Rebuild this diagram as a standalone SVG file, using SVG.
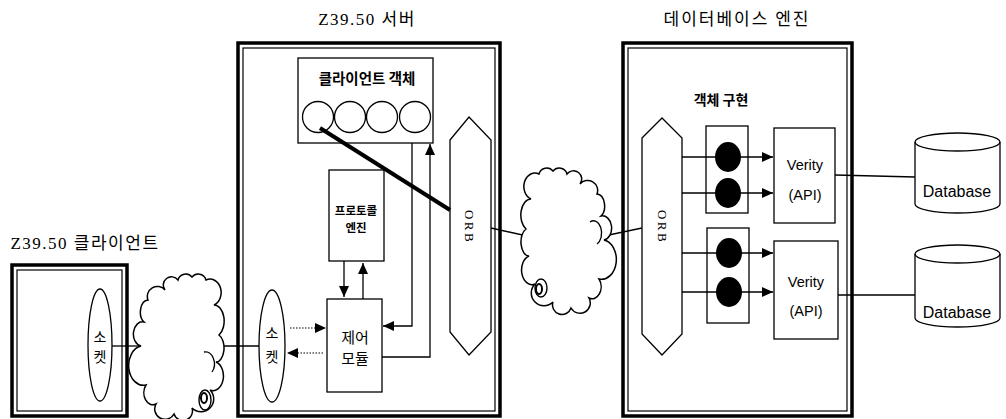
<svg xmlns="http://www.w3.org/2000/svg" width="1006" height="419" viewBox="0 0 1006 419">
<style>
.ln{fill:none;stroke:#000;stroke-width:1.3}
.box{fill:#fff;stroke:#000;stroke-width:1.3}
.fo{fill:none;stroke:#000;stroke-width:3.5}
.fi{fill:none;stroke:#000;stroke-width:1.2}
.dot{fill:none;stroke:#000;stroke-width:1.2;stroke-dasharray:1.5 1.5}
.kr{font-family:"Noto Sans CJK KR","Noto Sans",sans-serif;fill:#000;text-anchor:middle}
.ti{font-family:"Liberation Serif","Noto Sans CJK KR",serif;font-size:17px;letter-spacing:1.5px;fill:#000;text-anchor:middle}
.ar{font-family:"Liberation Sans",Arial,sans-serif;fill:#000;text-anchor:middle}
.orb{font-family:"Liberation Serif",serif;font-size:13px;letter-spacing:2.5px;fill:#000;text-anchor:middle}
</style>
<defs>
<marker id="ah" markerUnits="userSpaceOnUse" markerWidth="12" markerHeight="10" refX="11" refY="5" orient="auto"><path d="M0,0 L11,5 L0,10 Z" fill="#000"/></marker>
<path id="cloud" d="M141 346 A9 12 0 0 1 144 322 A8 12 0 0 1 148 300 A10 10 0 0 1 165 290 A8 8 0 0 1 178 280 A8 8 0 0 1 192 277 A8 8 0 0 1 206 280 A10 12 0 0 1 214 305 A10 16 0 0 1 219 335 A8 14 0 0 1 216 362 A10 14 0 0 1 210 390 A10 10 0 0 1 192 408 A9 9 0 0 1 174 414 A10 10 0 0 1 156 404 A9 12 0 0 1 146 385 A9 12 0 0 1 141 346 Z" fill="#fff" stroke="#000" stroke-width="1.5"/>
</defs>
<rect width="1006" height="419" fill="#fff"/>

<!-- titles -->
<text class="ti" x="367" y="25">Z39.50 서버</text>
<text class="ti" x="737" y="25" style="font-family:'Noto Sans CJK KR',sans-serif;letter-spacing:2px">데이터베이스 엔진</text>
<text class="ti" x="85" y="249">Z39.50 클라이언트</text>

<!-- client -->
<g id="client">
<rect class="fo" x="12" y="265" width="115" height="151"/>
<rect class="fi" x="17" y="270" width="105" height="141"/>
<ellipse class="box" cx="100" cy="345" rx="12" ry="56"/>
<text class="kr" x="100" y="342" font-size="14">소</text>
<text class="kr" x="100" y="362" font-size="14">켓</text>
</g>

<!-- server -->
<g id="server">
<rect class="fo" x="238" y="43" width="262" height="373"/>
<rect class="fi" x="243" y="48" width="252" height="363"/>
</g>
<g id="client-object">
<rect class="box" x="298" y="58" width="135" height="85"/>
<text class="kr" x="367" y="84" font-size="14.5" font-weight="bold">클라이언트 객체</text>
<circle class="box" cx="318" cy="117" r="15.5"/>
<circle class="box" cx="350" cy="117" r="15.5"/>
<circle class="box" cx="382" cy="117" r="15.5"/>
<circle class="box" cx="415" cy="117" r="15.5"/>
</g>
<g id="protocol-engine">
<rect class="box" x="329" y="170" width="55" height="91"/>
<text class="kr" x="356" y="215" font-size="11.5" font-weight="bold">프로토콜</text>
<text class="kr" x="356" y="232" font-size="11.5" font-weight="bold">엔진</text>
</g>
<g id="control-module">
<rect class="box" x="327" y="299" width="55" height="93"/>
<text class="kr" x="355" y="343" font-size="15">제어</text>
<text class="kr" x="355" y="364" font-size="15">모듈</text>
</g>
<g id="server-socket">
<ellipse class="box" cx="272" cy="346" rx="13" ry="56"/>
<text class="kr" x="272" y="338" font-size="14">소</text>
<text class="kr" x="272" y="362" font-size="14">켓</text>
</g>
<g id="server-orb">
<polygon class="box" points="450,140 469,117 491,140 491,332 469,355 450,332"/>
<text class="orb" transform="translate(465,227) rotate(90)">ORB</text>
</g>

<!-- db engine -->
<g id="db-engine">
<rect class="fo" x="623" y="43" width="229" height="373"/>
<rect class="fi" x="628" y="48" width="219" height="363"/>
<text class="kr" x="721" y="105" font-size="14" font-weight="bold">객체 구현</text>
</g>
<g id="db-orb">
<polygon class="box" points="642,138 662,118 682,138 682,334 662,355 642,334"/>
<text class="orb" transform="translate(658,227) rotate(90)">ORB</text>
</g>
<g id="impl1">
<rect class="box" x="706" y="126" width="42" height="87"/>
<ellipse cx="728" cy="157" rx="13" ry="15" fill="#000"/>
<ellipse cx="728" cy="193" rx="13" ry="15" fill="#000"/>
</g>
<g id="impl2">
<rect class="box" x="707" y="228" width="42" height="95"/>
<ellipse cx="729" cy="253" rx="13" ry="15" fill="#000"/>
<ellipse cx="729" cy="292" rx="13" ry="15" fill="#000"/>
</g>
<g id="verity1">
<rect class="box" x="774" y="128" width="61" height="95"/>
<text class="ar" x="805" y="170" font-size="14.5">Verity</text>
<text class="ar" x="805" y="200" font-size="14.5">(API)</text>
</g>
<g id="verity2">
<rect class="box" x="774" y="241" width="64" height="98"/>
<text class="ar" x="806" y="287" font-size="14.5">Verity</text>
<text class="ar" x="806" y="316" font-size="14.5">(API)</text>
</g>
<g id="database1">
<path class="box" d="M915,142 A42.5 9 0 0 1 1000,142 V204 A42.5 9 0 0 1 915,204 Z"/>
<path class="ln" d="M915,142 A42.5 9 0 0 0 1000,142"/>
<text class="ar" x="957" y="197" font-size="16">Database</text>
</g>
<g id="database2">
<path class="box" d="M915,254 A42.5 9 0 0 1 1000,254 V318 A42.5 9 0 0 1 915,318 Z"/>
<path class="ln" d="M915,254 A42.5 9 0 0 0 1000,254"/>
<text class="ar" x="957" y="318" font-size="16">Database</text>
</g>

<!-- connectors -->
<g id="connectors">
<line class="ln" x1="112" y1="346" x2="142" y2="346"/>
<line class="ln" x1="219" y1="346" x2="259" y2="346"/>
<line class="ln" x1="491" y1="228" x2="527" y2="236"/>
<line class="ln" x1="604" y1="236" x2="642" y2="228"/>
<line x1="320" y1="128" x2="450" y2="210" stroke="#000" stroke-width="4"/>
<path class="ln" d="M412,143 V326 H383" marker-end="url(#ah)"/>
<path class="ln" d="M382,357 H430 V144" marker-end="url(#ah)"/>
<line class="ln" x1="344" y1="261" x2="344" y2="297" marker-end="url(#ah)"/>
<line class="ln" x1="363" y1="299" x2="363" y2="263" marker-end="url(#ah)"/>
<line class="dot" x1="290" y1="328" x2="326" y2="328" marker-end="url(#ah)"/>
<line class="dot" x1="323" y1="353" x2="287" y2="353" marker-end="url(#ah)"/>
<line class="ln" x1="682" y1="157" x2="773" y2="157" marker-end="url(#ah)"/>
<line class="ln" x1="682" y1="193" x2="773" y2="193" marker-end="url(#ah)"/>
<line class="ln" x1="682" y1="253" x2="773" y2="253" marker-end="url(#ah)"/>
<line class="ln" x1="682" y1="292" x2="773" y2="292" marker-end="url(#ah)"/>
<line class="ln" x1="835" y1="175" x2="915" y2="177"/>
<line class="ln" x1="838" y1="295" x2="915" y2="295"/>
</g>

<!-- clouds -->
<g id="cloud1">
<use href="#cloud"/>
<path class="ln" d="M204 352 A9 12 0 0 1 212 372"/>
<ellipse cx="205" cy="400" rx="6" ry="10" fill="#fff" stroke="#000" stroke-width="1.4"/>
<ellipse cx="204" cy="398" rx="3" ry="5" fill="none" stroke="#000" stroke-width="2"/>
</g>
<g id="cloud2">
<use href="#cloud" transform="matrix(-1 0 0 1 745 -106)"/>
<path class="ln" d="M590 222 A8 12 0 0 1 597 244"/>
<ellipse cx="541" cy="288" rx="6" ry="9" fill="#fff" stroke="#000" stroke-width="1.4"/>
<ellipse cx="539" cy="289" rx="3" ry="5" fill="none" stroke="#000" stroke-width="2"/>
</g>
</svg>
